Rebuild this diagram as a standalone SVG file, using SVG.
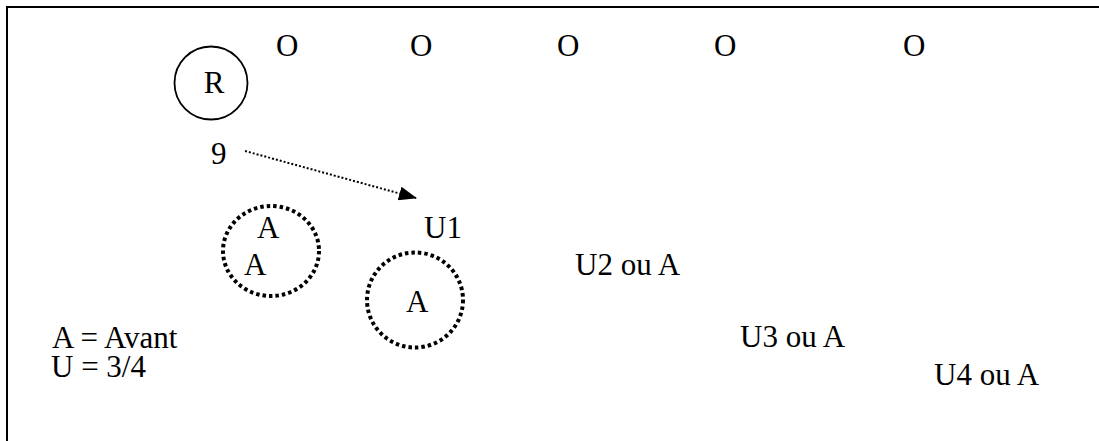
<svg xmlns="http://www.w3.org/2000/svg" width="1099" height="441" viewBox="0 0 1099 441">
<style>
text{font-family:"Liberation Serif","Times New Roman",serif;font-size:31px;fill:#000}
.dot{fill:none;stroke:#000;stroke-width:4;stroke-dasharray:3.5 3}
</style>
<defs>
<marker id="ah" markerWidth="18" markerHeight="14" refX="17" refY="7" orient="auto" markerUnits="userSpaceOnUse" viewBox="0 0 18 14">
<path d="M0,0 L18,7 L0,14 Z" fill="#000"/>
</marker>
</defs>
<rect x="7" y="7" width="1110" height="450" fill="#fff" stroke="#000" stroke-width="2"/>
<g id="opponents">
<text x="276" y="56">O</text>
<text x="410" y="56">O</text>
<text x="557" y="56">O</text>
<text x="714" y="56">O</text>
<text x="903" y="56">O</text>
</g>
<g id="node-R">
<circle cx="211" cy="83" r="36.5" fill="none" stroke="#000" stroke-width="1.8"/>
<text x="214" y="93" text-anchor="middle">R</text>
</g>
<g id="node-9"><text x="211" y="164">9</text></g>
<g id="node-A-group">
<ellipse class="dot" cx="271" cy="251" rx="48" ry="45"/>
<text x="257" y="238">A</text>
<text x="244" y="275">A</text>
</g>
<g id="node-A2">
<ellipse class="dot" cx="415" cy="300" rx="48" ry="47.5"/>
<text x="406" y="312">A</text>
</g>
<g id="node-U1"><text x="424" y="238">U1</text></g>
<g id="node-U2"><text x="575" y="275">U2 ou A</text></g>
<g id="node-U3"><text x="740" y="347">U3 ou A</text></g>
<g id="node-U4"><text x="934" y="385">U4 ou A</text></g>
<g id="legend">
<text x="52" y="348">A = Avant</text>
<text x="51" y="377">U = 3/4</text>
</g>
<g id="connectors">
<line x1="245" y1="151" x2="416" y2="198" stroke="#000" stroke-width="2" stroke-dasharray="2 2" marker-end="url(#ah)"/>
</g>
</svg>
